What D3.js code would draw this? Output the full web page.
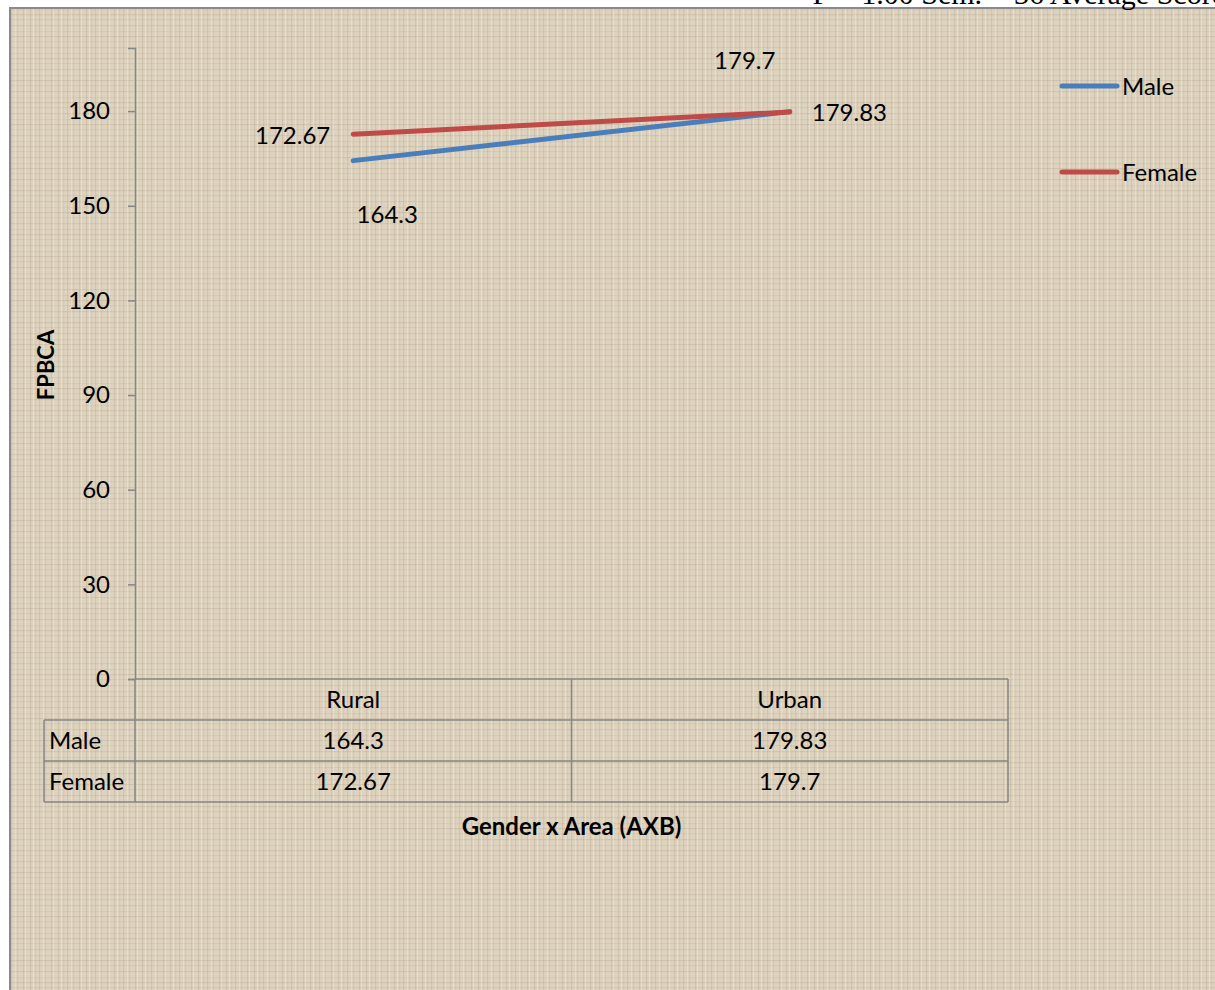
<!DOCTYPE html>
<html>
<head>
<meta charset="utf-8">
<script src="https://cdn.jsdelivr.net/npm/d3@7"></script>
<style>
  body { margin: 0; background: #fff; }
  svg { display: block; }
  text { font-family: Lato, "Open Sans", sans-serif; fill: #000; }
</style>
</head>
<body>
<svg id="chart" width="1215" height="990"></svg>
<script>
// data
const areas = ["Rural", "Urban"];
const seriesNames = ["Male", "Female"];
const maleValues = [164.3, 179.83];
const femaleValues = [172.67, 179.7];
const yTicks = [0, 30, 60, 90, 120, 150, 180];
const colors = ["#4a7ebb", "#be4b48"];

const series = seriesNames.map((name, i) => ({
  name: name,
  color: colors[i],
  values: i === 0 ? maleValues : femaleValues
}));

const fs = "24px";
const svg = d3.select("#chart");

// linen like background
const defs = svg.append("defs");
const pat = defs.append("pattern")
  .attr("id", "linen")
  .attr("patternUnits", "userSpaceOnUse")
  .attr("width", 28).attr("height", 22);
pat.append("rect").attr("width", 28).attr("height", 22).attr("fill", "#ddd3bf");
[[2, 0.35], [7, 0.18], [11, 0.3], [17, 0.2], [23, 0.32]].forEach(([x, o]) => {
  pat.append("rect").attr("x", x).attr("y", 0).attr("width", 1.2).attr("height", 22)
    .attr("fill", "#b3a78f").attr("opacity", o);
});
[[3, 0.3], [9, 0.2], [14, 0.35], [19, 0.22]].forEach(([y, o]) => {
  pat.append("rect").attr("x", 0).attr("y", y).attr("width", 28).attr("height", 1.2)
    .attr("fill", "#b3a78f").attr("opacity", o);
});
[[5, 0.5], [15, 0.4], [25, 0.45]].forEach(([x, o]) => {
  pat.append("rect").attr("x", x).attr("y", 0).attr("width", 0.8).attr("height", 22)
    .attr("fill", "#f4efe4").attr("opacity", o);
});

svg.append("rect")
  .attr("x", 10).attr("y", 8).attr("width", 1215).attr("height", 1000)
  .attr("fill", "url(#linen)")
  .attr("stroke", "#8a8a8a").attr("stroke-width", 2);

// header text cut by the top edge
svg.append("text")
  .attr("x", 1225).attr("y", 4)
  .attr("text-anchor", "end")
  .style("font-family", "'Liberation Serif', 'DejaVu Serif', serif")
  .style("font-size", "30px")
  .text("F = 1.00 Sem. = 36 Average Score");

// scales
const x = d3.scaleBand().domain(areas).range([135, 1008]);
const y = d3.scaleLinear().domain([0, 200]).range([679, 48]);
const cx = d => x(d) + x.bandwidth() / 2;

// y axis
const yAxis = svg.append("g")
  .attr("transform", "translate(135,0)")
  .call(d3.axisLeft(y).tickValues(yTicks).tickSize(7).tickPadding(18).tickFormat(d3.format("d")));
yAxis.select(".domain").attr("stroke", "#868686").attr("stroke-width", 1.5);
yAxis.selectAll(".tick line").attr("stroke", "#868686").attr("stroke-width", 1.5);
yAxis.selectAll(".tick text")
  .style("font-family", "Lato, 'Open Sans', sans-serif")
  .style("font-size", fs).attr("fill", "#000");

// data table under the plot
const rowH = 41;
const tableTop = y(0);
const grid = svg.append("g").attr("stroke", "#868686").attr("stroke-width", 1.5).attr("fill", "none");
grid.append("line").attr("x1", 135).attr("x2", 1008).attr("y1", tableTop).attr("y2", tableTop);
[1, 2, 3].forEach(r => {
  grid.append("line").attr("x1", 44).attr("x2", 1008)
    .attr("y1", tableTop + r * rowH).attr("y2", tableTop + r * rowH);
});
grid.append("line").attr("x1", 44).attr("x2", 44).attr("y1", tableTop + rowH).attr("y2", tableTop + 3 * rowH);
[x(areas[0]), x(areas[1]), x(areas[1]) + x.bandwidth()].forEach(xx => {
  grid.append("line").attr("x1", xx).attr("x2", xx).attr("y1", tableTop).attr("y2", tableTop + 3 * rowH);
});

svg.selectAll(".colHead").data(areas).join("text")
  .attr("class", "colHead")
  .attr("x", d => cx(d)).attr("y", tableTop + rowH / 2)
  .attr("dy", "0.36em").attr("text-anchor", "middle")
  .style("font-size", fs).text(d => d);

series.forEach((s, i) => {
  const ry = tableTop + (i + 1) * rowH + rowH / 2;
  svg.append("text").attr("x", 49).attr("y", ry).attr("dy", "0.36em")
    .style("font-size", fs).text(s.name);
  svg.selectAll(".cell" + i).data(s.values).join("text")
    .attr("class", "cell" + i)
    .attr("x", (d, j) => cx(areas[j])).attr("y", ry).attr("dy", "0.36em")
    .attr("text-anchor", "middle").style("font-size", fs).text(d => d);
});

// lines
const line = d3.line().x((d, j) => cx(areas[j])).y(d => y(d));
series.forEach(s => {
  svg.append("path").datum(s.values)
    .attr("d", line).attr("fill", "none")
    .attr("stroke", s.color).attr("stroke-width", 5).attr("stroke-linecap", "round");
});

// data labels (offsets from the point, as placed in the original)
const labelOffsets = [
  [[34, 54, "middle"], [22, 1, "start"]],
  [[-23, 1, "end"], [-45, -52, "middle"]]
];
series.forEach((s, i) => {
  svg.selectAll(".lab" + i).data(s.values).join("text")
    .attr("class", "lab" + i)
    .attr("x", (d, j) => cx(areas[j]) + labelOffsets[i][j][0])
    .attr("y", (d, j) => y(d) + labelOffsets[i][j][1])
    .attr("dy", "0.36em")
    .attr("text-anchor", (d, j) => labelOffsets[i][j][2])
    .style("font-size", fs).text(d => d);
});

// legend
const leg = svg.selectAll(".leg").data(series).join("g")
  .attr("class", "leg")
  .attr("transform", (d, i) => `translate(1062,${86 + i * 86})`);
leg.append("line").attr("x1", 0).attr("x2", 55)
  .attr("stroke", d => d.color).attr("stroke-width", 5).attr("stroke-linecap", "round");
leg.append("text").attr("x", 60).attr("dy", "0.36em")
  .style("font-size", fs).text(d => d.name);

// axis titles
svg.append("text")
  .attr("x", cx(areas[0]) + x.bandwidth() / 2).attr("y", 826)
  .attr("dy", "0.36em").attr("text-anchor", "middle")
  .style("font-size", fs).style("font-weight", "bold")
  .text("Gender x Area (AXB)");

svg.append("text")
  .attr("transform", "translate(46,365) rotate(-90)")
  .attr("dy", "0.36em").attr("text-anchor", "middle")
  .style("font-size", "22px").style("font-weight", "bold")
  .text("FPBCA");
</script>
</body>
</html>
